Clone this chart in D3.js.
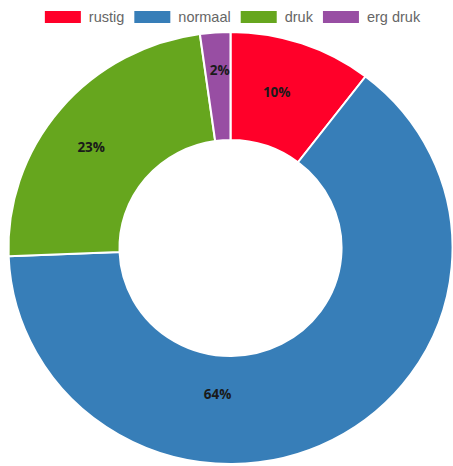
<!DOCTYPE html>
<html>
<head>
<meta charset="utf-8">
<script src="https://cdn.jsdelivr.net/npm/d3@7"></script>
<style>
  html, body { margin: 0; padding: 0; background: #fff; }
  svg { display: block; }
</style>
</head>
<body>
<svg id="chart" width="453" height="466"></svg>
<script>
// ---- data ----
const categories = ["rustig", "normaal", "druk", "erg druk"];
const values = [10.4, 64.0, 23.4, 2.2];
const percentLabels = ["10%", "64%", "23%", "2%"];
const colors = ["#ff0029", "#377eb8", "#66a61e", "#984ea3"];

// ---- layout (not data) ----
const W = 453, H = 466;
const cx = 230.5, cy = 248;
const R = 216, sx = 1.028;
const innerRatio = 0.5;
// label placement: angle (deg clockwise from top) and radius
const labelPlace = {
  "rustig":   { a: 16.1, r: 162 },
  "normaal":  { a: 184.9, r: 147 },
  "druk":     { a: 306.7, r: 169 },
  "erg druk": { a: -3.4, r: 178 }
};

const svg = d3.select("#chart");
const data = categories.map((c, i) => ({ name: c, value: values[i], label: percentLabels[i], color: colors[i] }));

const pie = d3.pie().sort(null).value(d => d.value);
const arc = d3.arc().innerRadius(R * innerRatio).outerRadius(R);
const arcs = pie(data);

const g = svg.append("g").attr("transform", `translate(${cx},${cy}) scale(${sx},1)`);
g.selectAll("path").data(arcs).enter().append("path")
  .attr("d", arc)
  .attr("fill", d => d.data.color)
  .attr("stroke", "#fff")
  .attr("stroke-width", 2)
  .attr("stroke-linejoin", "round");

// percent labels
svg.append("g").selectAll("text").data(arcs).enter().append("text")
  .attr("x", d => { const p = labelPlace[d.data.name]; return cx + sx * p.r * Math.sin(p.a * Math.PI / 180); })
  .attr("y", d => { const p = labelPlace[d.data.name]; return cy - p.r * Math.cos(p.a * Math.PI / 180); })
  .attr("text-anchor", "middle")
  .attr("dominant-baseline", "central")
  .attr("font-family", "'Open Sans', sans-serif")
  .attr("font-weight", "bold")
  .attr("font-size", "13.5px")
  .attr("fill", "#1a1a1a")
  .text(d => d.data.label);

// legend
const boxW = 36, boxH = 12, pad = 8, gap = 10, fs = 14.5;
const legend = svg.append("g");
const items = legend.selectAll("g").data(data).enter().append("g");
items.append("rect").attr("width", boxW).attr("height", boxH).attr("fill", d => d.color);
const texts = items.append("text")
  .attr("x", boxW + pad).attr("y", boxH / 2)
  .attr("dominant-baseline", "central")
  .attr("font-family", "'Liberation Sans', Arial, sans-serif")
  .attr("font-size", fs + "px")
  .attr("fill", "#666")
  .text(d => d.name);
const widths = [];
texts.each(function () { widths.push(boxW + pad + this.getComputedTextLength()); });
const total = d3.sum(widths) + gap * (widths.length - 1);
let x0 = 232.5 - total / 2;
items.attr("transform", (d, i) => {
  const t = `translate(${x0},11)`;
  x0 += widths[i] + gap;
  return t;
});
</script>
</body>
</html>
